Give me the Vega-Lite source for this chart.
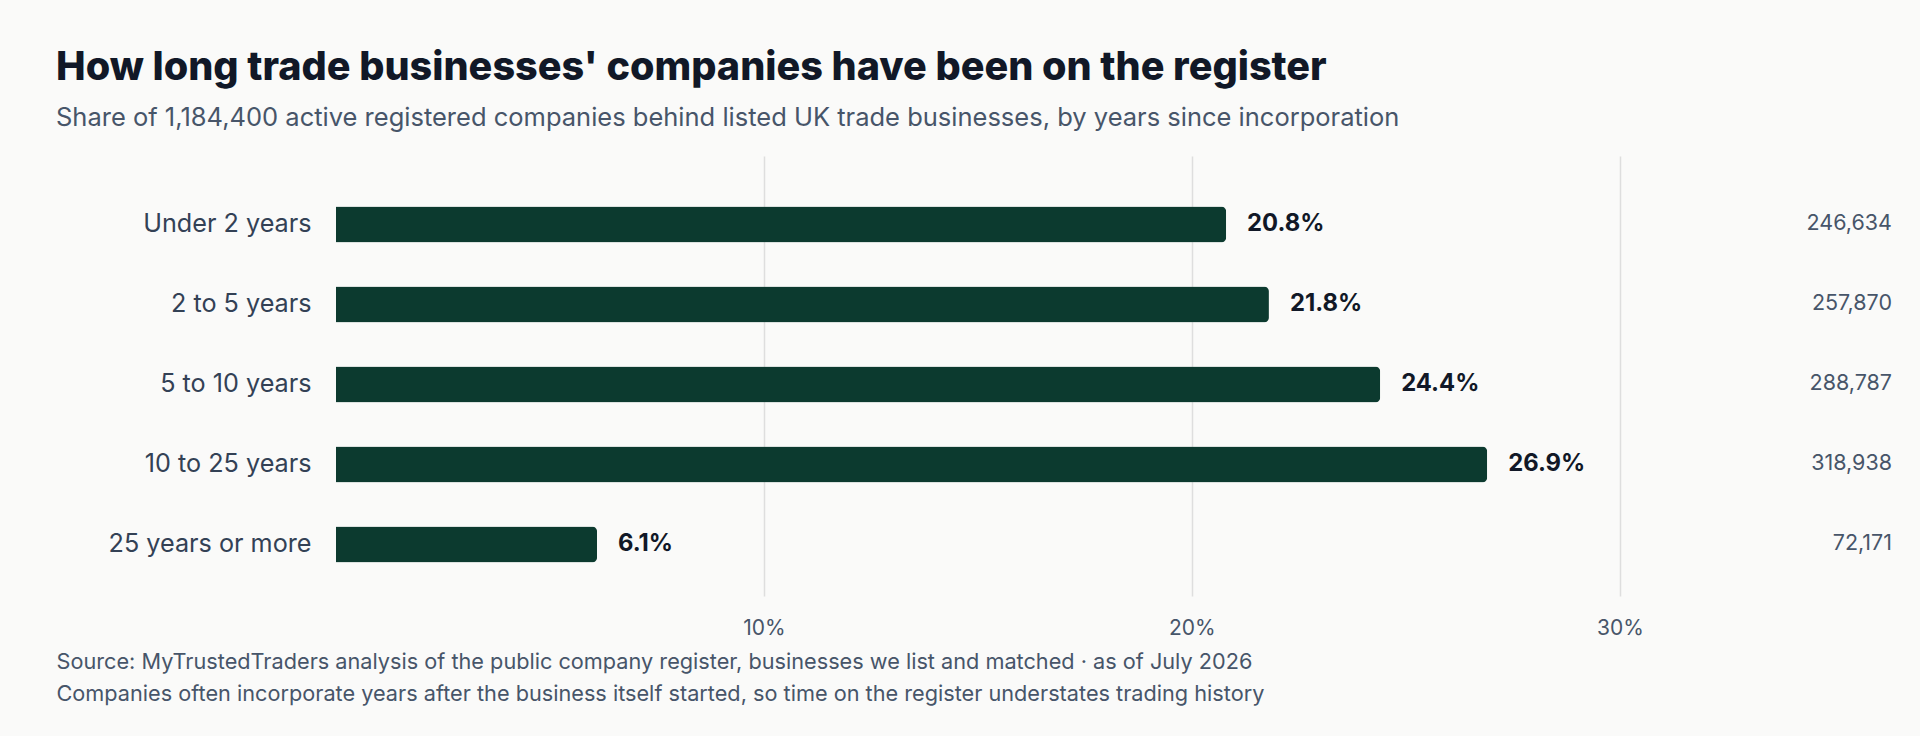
{
  "$schema": "https://vega.github.io/schema/vega-lite/v6.json",
  "width": 1556,
  "height": 440,
  "autosize": {"type": "none"},
  "padding": {"left": 336, "top": 156, "right": 28, "bottom": 140},
  "background": "#fafaf9",
  "config": {
    "font": "Inter",
    "view": {"stroke": null}
  },
  "title": {
    "text": "How long trade businesses' companies have been on the register",
    "subtitle": "Share of 1,184,400 active registered companies behind listed UK trade businesses, by years since incorporation",
    "anchor": "start",
    "frame": "group",
    "dx": -280,
    "offset": 24,
    "font": "Inter",
    "fontSize": 39.6,
    "fontWeight": 800,
    "color": "#111827",
    "subtitleFont": "Inter",
    "subtitleFontSize": 25.5,
    "subtitleColor": "#475569",
    "subtitlePadding": 17
  },
  "data": {
    "values": [
      {"band": "Under 2 years", "share": 0.208, "count": 246634},
      {"band": "2 to 5 years", "share": 0.218, "count": 257870},
      {"band": "5 to 10 years", "share": 0.244, "count": 288787},
      {"band": "10 to 25 years", "share": 0.269, "count": 318938},
      {"band": "25 years or more", "share": 0.061, "count": 72171}
    ]
  },
  "encoding": {
    "y": {
      "field": "band",
      "type": "nominal",
      "sort": null,
      "scale": {"paddingInner": 0.55, "paddingOuter": 0.525, "align": 0.6},
      "axis": {
        "title": null,
        "domain": false,
        "ticks": false,
        "grid": false,
        "labelPadding": 25,
        "labelFontSize": 25.2,
        "labelLimit": 400,
        "labelColor": "#334155",
        "labelFont": "Inter"
      }
    }
  },
  "layer": [
    {
      "mark": {"type": "bar", "color": "#0c3a2f", "cornerRadiusEnd": 5},
      "encoding": {
        "x": {
          "field": "share",
          "type": "quantitative",
          "scale": {"domain": [0, 0.3636], "nice": false, "zero": true},
          "axis": {
            "values": [0.1, 0.2, 0.3],
            "format": ".0%",
            "grid": true,
            "gridColor": "#dedede",
            "gridWidth": 1.5,
            "domain": false,
            "ticks": false,
            "labelPadding": 21,
            "labelFontSize": 21,
            "labelColor": "#475569",
            "labelFont": "Inter",
            "title": [
              "Source: MyTrustedTraders analysis of the public company register, businesses we list and matched  ·  as of July 2026",
              "Companies often incorporate years after the business itself started, so time on the register understates trading history"
            ],
            "titleFont": "Inter",
            "titleFontSize": 21.7,
            "titleFontWeight": "normal",
            "titleColor": "#475569",
            "titleAnchor": "start",
            "titleAlign": "left",
            "titleBaseline": "alphabetic",
            "titleX": -280,
            "titleY": 72,
            "titleLineHeight": 32
          }
        }
      }
    },
    {
      "mark": {"type": "text", "align": "left", "baseline": "middle", "dx": 21, "fontSize": 23.8, "fontWeight": "bold", "color": "#111827", "font": "Inter"},
      "encoding": {
        "x": {"field": "share", "type": "quantitative"},
        "text": {"field": "share", "type": "quantitative", "format": ".1%"}
      }
    },
    {
      "mark": {"type": "text", "align": "right", "baseline": "middle", "fontSize": 21.5, "color": "#475569", "font": "Inter"},
      "encoding": {
        "x": {"datum": 0.3636, "type": "quantitative"},
        "text": {"field": "count", "type": "quantitative", "format": ","}
      }
    }
  ]
}
